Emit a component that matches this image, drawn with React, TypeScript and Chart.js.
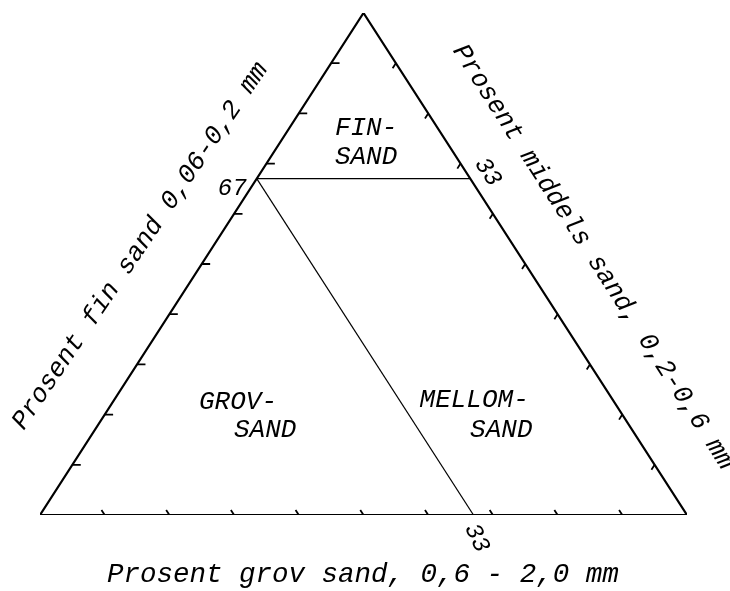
import { useEffect, useRef } from "react";
import { Chart, registerables } from "chart.js";

Chart.register(...registerables);

// Ternary compositions as [fin, middels, grov] percentages
const TRIANGLE: number[][] = [
  [100, 0, 0],
  [0, 0, 100],
  [0, 100, 0],
  [100, 0, 0],
];
const FIN_BOUNDARY: number[][] = [
  [67, 0, 33],
  [67, 33, 0],
];
const GROV_BOUNDARY: number[][] = [
  [67, 0, 33],
  [0, 67, 33],
];
const TICK_VALUES = [10, 20, 30, 40, 50, 60, 70, 80, 90];

const REGION_LABELS = ["FIN-", "SAND", "GROV-", "SAND", "MELLOM-", "SAND"];
const LIMIT_LABELS = ["67", "33", "33"];
const AXIS_TITLES = [
  "Prosent fin sand 0,06-0,2 mm",
  "Prosent middels sand, 0,2-0,6 mm",
  "Prosent grov sand, 0,6 - 2,0 mm",
];

const FONT = '"Liberation Mono", "DejaVu Sans Mono", monospace';

// fin sand goes to the apex, middels to bottom-right, grov to bottom-left
const toXY = ([fin, mid]: number[]) => ({ x: mid + fin / 2, y: fin });

function tickSegments() {
  const pts: { x: number | null; y: number | null }[] = [];
  const gap = { x: null, y: null };
  for (const v of TICK_VALUES) {
    pts.push(toXY([v, 0, 100 - v]), toXY([v, 1.3, 100 - v - 1.3]), gap);
    pts.push(toXY([v, 100 - v, 0]), toXY([v - 1, 100 - v, 1]), gap);
    pts.push(toXY([0, v, 100 - v]), toXY([1, v - 1, 100 - v]), gap);
  }
  return pts;
}

const textPlugin = {
  id: "ternaryText",
  afterDraw(chart: any) {
    const { ctx } = chart;
    const sx = chart.scales.x;
    const sy = chart.scales.y;
    const put = (
      text: string,
      x: number,
      y: number,
      size: number,
      angle = 0
    ) => {
      ctx.save();
      ctx.translate(sx.getPixelForValue(x), sy.getPixelForValue(y));
      ctx.rotate((angle * Math.PI) / 180);
      ctx.font = `italic ${size}px ${FONT}`;
      ctx.fillStyle = "#000";
      ctx.textAlign = "center";
      ctx.textBaseline = "middle";
      ctx.fillText(text, 0, 0);
      ctx.restore();
    };
    // class names
    put(REGION_LABELS[0], 50.4, 77.1, 26);
    put(REGION_LABELS[1], 50.4, 71.3, 26);
    put(REGION_LABELS[2], 30.6, 22.5, 26);
    put(REGION_LABELS[3], 34.8, 16.9, 26);
    put(REGION_LABELS[4], 67.1, 22.9, 26);
    put(REGION_LABELS[5], 71.3, 16.9, 26);
    // boundary values
    put(LIMIT_LABELS[0], 29.7, 65.1, 24);
    put(LIMIT_LABELS[1], 69.2, 68.3, 24, 57);
    put(LIMIT_LABELS[2], 67.5, -4.6, 24, 65);
    // axis titles
    put(AXIS_TITLES[0], 15.5, 53.6, 26, -56);
    put(AXIS_TITLES[1], 85.5, 51.4, 26, 57.3);
    put(AXIS_TITLES[2], 49.9, -11.8, 27.5);
  },
};

export default function App() {
  const ref = useRef<HTMLCanvasElement>(null);

  useEffect(() => {
    if (!ref.current) return;
    const line = (data: any[], width: number) => ({
      data,
      showLine: true,
      borderColor: "#000",
      borderWidth: width,
      pointRadius: 0,
      fill: false,
      tension: 0,
      spanGaps: false,
    });
    const chart = new Chart(ref.current, {
      type: "scatter",
      data: {
        datasets: [
          line(TRIANGLE.map(toXY), 2.2),
          line(FIN_BOUNDARY.map(toXY), 1.2),
          line(GROV_BOUNDARY.map(toXY), 1.2),
          line(tickSegments(), 1.8),
        ],
      },
      options: {
        responsive: false,
        animation: false,
        layout: { padding: { left: 40, right: 43, top: 13, bottom: 76 } },
        scales: {
          x: { type: "linear", min: 0, max: 100, display: false },
          y: { type: "linear", min: 0, max: 100, display: false },
        },
        plugins: {
          legend: { display: false },
          tooltip: { enabled: false },
        },
      },
      plugins: [textPlugin],
    });
    return () => chart.destroy();
  }, []);

  return (
    <div style={{ position: "absolute", left: 0, top: 0, background: "#fff" }}>
      <canvas
        ref={ref}
        width={730}
        height={591}
        style={{ display: "block", width: 730, height: 591 }}
      />
    </div>
  );
}
